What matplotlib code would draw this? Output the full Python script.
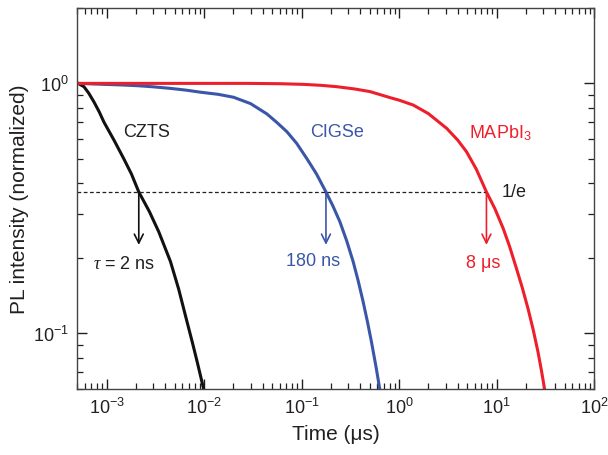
# pl_decay.py
# Curvas de PL normalizadas (CZTS, CIGSe, MAPbI3) en log-log

import numpy as np
import matplotlib
matplotlib.use("Agg")
import matplotlib.pyplot as plt

# datos (tiempo en us, intensidad normalizada)
czts_t = [5.1e-4, 5.86e-4, 6.55e-4, 7.4e-4, 8.4e-4, 9.4e-4, 1.2e-3, 1.5e-3, 1.8e-3,
          2.14e-3, 2.75e-3, 3.43e-3, 4.52e-3, 5.5e-3, 6.7e-3, 7.6e-3, 8.5e-3, 9.9e-3]
czts_i = [1.0, 0.97, 0.915, 0.845, 0.77, 0.70, 0.59, 0.50, 0.434,
          0.368, 0.307, 0.255, 0.194, 0.150, 0.111, 0.0918, 0.077, 0.060]

cigse_t = [5.1e-4, 9.4e-4, 1.4e-3, 2.06e-3, 3.0e-3, 4.52e-3, 6.5e-3, 9.2e-3, 1.4e-2,
           2.01e-2, 3.0e-2, 4.41e-2, 5.6e-2, 7.07e-2, 8.9e-2, 0.113, 0.142, 0.178,
           0.21, 0.247, 0.29, 0.338, 0.38, 0.428, 0.475, 0.52, 0.58, 0.634]
cigse_i = [1.0, 0.991, 0.986, 0.979, 0.969, 0.955, 0.940, 0.922, 0.904,
           0.880, 0.830, 0.755, 0.697, 0.641, 0.576, 0.501, 0.435, 0.368,
           0.323, 0.28, 0.235, 0.194, 0.163, 0.134, 0.111, 0.093, 0.0737, 0.060]

mapbi_t = [5.1e-4, 0.0275, 0.06, 0.105, 0.16, 0.23, 0.35, 0.505, 0.81, 1.0, 1.40,
           2.0, 3.08, 4.0, 4.92, 6.2, 7.88, 9.6, 11.7, 13.6, 16.0, 18.4, 21.0,
           23.7, 26.6, 28.8, 31.1]
mapbi_i = [1.0, 1.0, 0.997, 0.991, 0.982, 0.97, 0.95, 0.927, 0.877, 0.857, 0.819,
           0.757, 0.661, 0.593, 0.533, 0.454, 0.368, 0.316, 0.263, 0.223, 0.182,
           0.152, 0.126, 0.104, 0.0845, 0.0715, 0.060]

# tiempos de vida (posicion de las flechas) y etiquetas
tau_t = [2.14e-3, 0.178, 7.88]
tau_labels = [r"$\tau$ = 2 ns", "180 ns", "8 \u03bcs"]
names = ["CZTS", "CIGSe", "MAPbI$_3$"]

black = "#111111"
blue = "#3a56a8"
red = "#ee1f2b"
text_c = "#231f20"

plt.rcParams["font.family"] = ["Liberation Sans", "DejaVu Sans"]
plt.rcParams["mathtext.fontset"] = "custom"
plt.rcParams["mathtext.rm"] = "Liberation Sans"
plt.rcParams["mathtext.it"] = "Liberation Serif:italic"
plt.rcParams["font.size"] = 13

fig = plt.figure(figsize=(6.08, 4.56), dpi=100)
ax = fig.add_axes([0.127, 0.145, 0.850, 0.835])

ax.plot(czts_t, czts_i, color=black, lw=2.2)
ax.plot(cigse_t, cigse_i, color=blue, lw=2.2)
ax.plot(mapbi_t, mapbi_i, color=red, lw=2.2)

ax.set_xscale("log")
ax.set_yscale("log")
ax.set_xlim(5e-4, 100)
ax.set_ylim(0.06, 2.0)

# linea 1/e
inv_e = np.exp(-1)
ax.plot([5e-4, tau_t[2]], [inv_e, inv_e], color=text_c, lw=0.9, ls=(0, (3, 2)))
ax.text(11.2, inv_e, "1/e", color=text_c, va="center", ha="left")

# flechas
colors = [black, blue, red]
for t, c in zip(tau_t, colors):
    ax.annotate("", xy=(t, 0.226), xytext=(t, inv_e),
                arrowprops=dict(arrowstyle="->", color=c, lw=1.2,
                                mutation_scale=16, shrinkA=0, shrinkB=0))

ax.text(7.3e-4, 0.19, tau_labels[0], color=text_c, va="center", ha="left")
ax.text(0.1325, 0.195, tau_labels[1], color=blue, va="center", ha="center")
ax.text(7.28, 0.192, tau_labels[2], color=red, va="center", ha="center")

ax.text(2.6e-3, 0.641, names[0], color=text_c, va="center", ha="center")
ax.text(0.23, 0.641, names[1], color=blue, va="center", ha="center")
ax.text(5.23, 0.641, names[2], color=red, va="center", ha="left")

ax.set_xlabel("Time (\u03bcs)", color=text_c, fontsize=15, labelpad=5)
ax.set_ylabel("PL intensity (normalized)", color=text_c, fontsize=15, labelpad=3)

ax.tick_params(which="both", direction="in", top=True, right=True,
               colors=text_c, labelcolor=text_c)
ax.tick_params(which="major", length=7, width=1, pad=6)
ax.tick_params(which="minor", length=4, width=0.9)
for s in ax.spines.values():
    s.set_color("#444444")
    s.set_linewidth(1)

fig.savefig("out.png", dpi=100)
